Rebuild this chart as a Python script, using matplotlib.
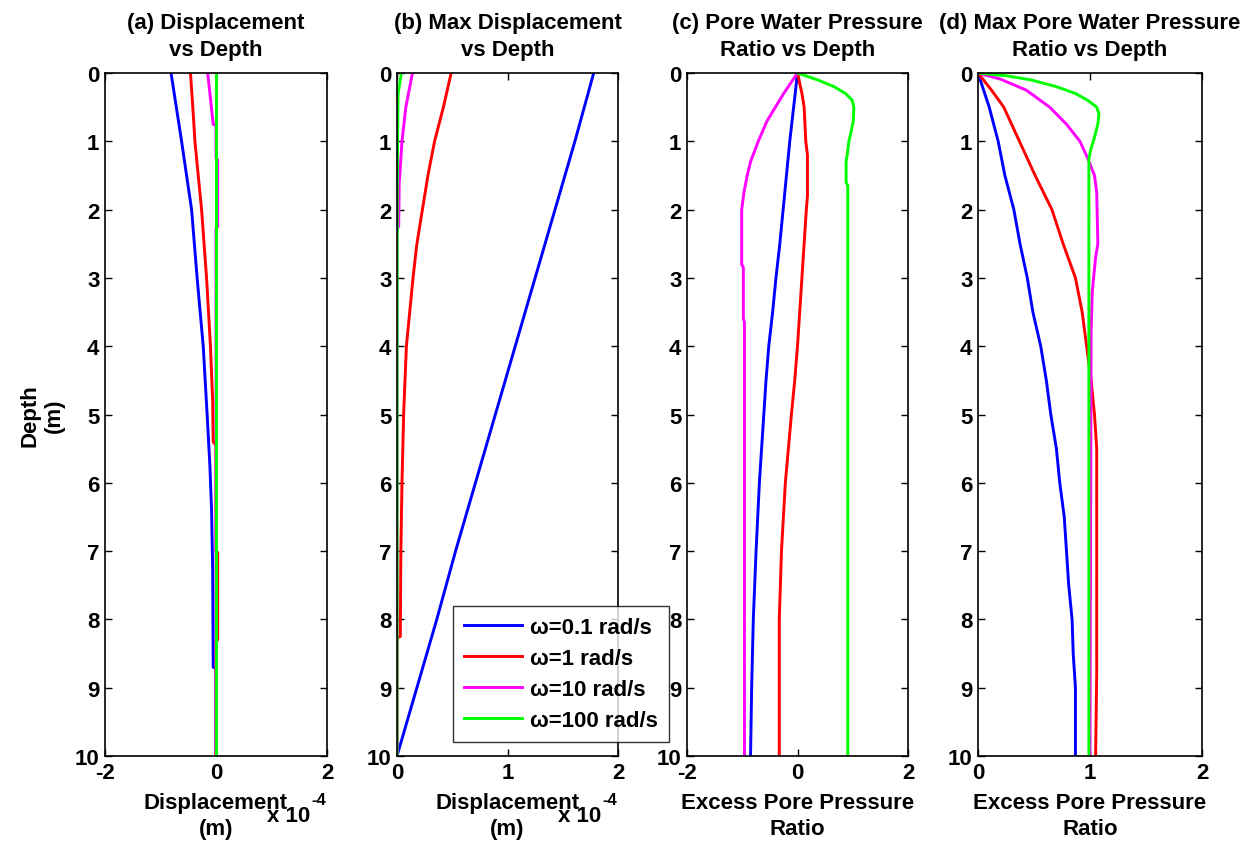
import matplotlib
matplotlib.use('Agg')
from matplotlib import pyplot as plt

plt.rcParams['font.family'] = ['Liberation Sans', 'DejaVu Sans']
plt.rcParams['font.weight'] = 'bold'
plt.rcParams['axes.unicode_minus'] = False

# frequencies (legend)
labels = ['ω=0.1 rad/s', 'ω=1 rad/s', 'ω=10 rad/s', 'ω=100 rad/s']
colors = ['#0000ff', '#ff0000', '#ff00ff', '#00ff00']

# (a) displacement, units of 1e-4 m
a_blue_d = [0, 1, 2, 3, 4, 5, 5.75, 6.4, 7.25, 8.7, 8.72, 10]
a_blue_x = [-0.81, -0.62, -0.44, -0.34, -0.23, -0.16, -0.11, -0.08, -0.06, -0.05, 0, 0]
a_red_d = [0, 0.6, 1, 2, 3, 4, 4.8, 5.4, 5.45, 7.0, 7.02, 8.3, 8.32, 10]
a_red_x = [-0.46, -0.41, -0.38, -0.26, -0.17, -0.10, -0.06, -0.05, 0, 0, 0.03, 0.03, 0, 0]
a_mag_d = [0, 0.75, 0.77, 1.25, 1.27, 2.25, 2.27, 10]
a_mag_x = [-0.15, -0.05, 0, 0, 0.03, 0.03, 0, 0]
a_green_d = [0, 10]
a_green_x = [0, 0]

# (b) max displacement, units of 1e-4 m
b_blue_d = [0, 1, 2, 3, 4, 5, 6, 7, 8, 9, 10]
b_blue_x = [1.78, 1.61, 1.43, 1.25, 1.07, 0.89, 0.71, 0.53, 0.36, 0.18, 0.0]
b_red_d = [0, 0.5, 1, 1.5, 2, 2.5, 3, 3.5, 4, 5, 6, 7, 8.25, 8.27, 10]
b_red_x = [0.49, 0.42, 0.34, 0.28, 0.23, 0.18, 0.145, 0.115, 0.085, 0.06, 0.045, 0.035, 0.03, 0.0, 0.0]
b_mag_d = [0, 0.5, 1, 1.5, 1.6, 2.25, 2.27, 10]
b_mag_x = [0.14, 0.08, 0.045, 0.025, 0.02, 0.015, 0, 0]
b_green_d = [0, 0.3, 1, 2, 10]
b_green_x = [0.04, 0.01, 0.005, 0.002, 0]

# (c) pore water pressure ratio
c_blue_d = [0, 0.5, 1, 1.5, 2, 2.5, 3, 3.5, 4, 4.5, 5, 6, 7, 8, 9, 10]
c_blue_x = [0, -0.07, -0.14, -0.20, -0.26, -0.32, -0.39, -0.45, -0.52, -0.57, -0.61, -0.69, -0.75, -0.80, -0.83, -0.85]
c_red_d = [0, 0.3, 0.5, 1, 1.2, 1.8, 2, 2.5, 3, 3.5, 4, 4.5, 5, 6, 7, 8, 10]
c_red_x = [0, 0.08, 0.12, 0.15, 0.18, 0.18, 0.16, 0.12, 0.08, 0.04, 0.0, -0.05, -0.11, -0.22, -0.29, -0.33, -0.33]
c_mag_d = [0, 0.3, 0.5, 0.7, 1, 1.3, 1.5, 1.75, 2, 2.8, 2.85, 3.6, 3.65, 10]
c_mag_x = [0, -0.25, -0.40, -0.55, -0.71, -0.85, -0.91, -0.97, -1.01, -1.01, -0.98, -0.98, -0.96, -0.96]
c_green_d = [0, 0.1, 0.2, 0.3, 0.4, 0.5, 0.7, 0.9, 1.0, 1.2, 1.3, 1.6, 1.65, 10]
c_green_x = [0, 0.36, 0.66, 0.87, 0.99, 1.02, 1.01, 0.96, 0.93, 0.90, 0.88, 0.88, 0.91, 0.91]

# (d) max pore water pressure ratio
d_blue_d = [0, 0.5, 1, 1.5, 2, 2.5, 3, 3.5, 4, 4.5, 5, 5.5, 6, 6.5, 7, 7.5, 8, 8.5, 9, 10]
d_blue_x = [0, 0.10, 0.18, 0.24, 0.32, 0.375, 0.44, 0.49, 0.56, 0.61, 0.65, 0.70, 0.73, 0.77, 0.79, 0.81, 0.84, 0.85, 0.87, 0.87]
d_red_d = [0, 0.25, 0.5, 1, 1.5, 2, 2.5, 3, 3.5, 4, 4.5, 5, 5.5, 8.8, 10]
d_red_x = [0, 0.12, 0.23, 0.37, 0.51, 0.66, 0.76, 0.87, 0.93, 0.97, 1.01, 1.04, 1.06, 1.06, 1.05]
d_mag_d = [0, 0.09, 0.25, 0.5, 0.75, 1, 1.25, 1.5, 1.75, 2.5, 2.7, 3.2, 3.8, 10]
d_mag_x = [0, 0.20, 0.43, 0.64, 0.79, 0.91, 0.98, 1.04, 1.06, 1.07, 1.05, 1.02, 1.01, 1.0]
d_green_d = [0, 0.04, 0.1, 0.2, 0.3, 0.4, 0.5, 0.6, 0.75, 1, 1.1, 1.25, 10]
d_green_x = [0, 0.25, 0.47, 0.70, 0.87, 0.98, 1.06, 1.08, 1.07, 1.03, 1.01, 0.99, 0.99]

panels = [
    ('(a) Displacement\nvs Depth', 'Displacement\n(m)', (-2, 2), [-2, 0, 2],
     [(a_blue_x, a_blue_d), (a_red_x, a_red_d), (a_mag_x, a_mag_d), (a_green_x, a_green_d)]),
    ('(b) Max Displacement\nvs Depth', 'Displacement\n(m)', (0, 2), [0, 1, 2],
     [(b_blue_x, b_blue_d), (b_red_x, b_red_d), (b_mag_x, b_mag_d), (b_green_x, b_green_d)]),
    ('(c) Pore Water Pressure\nRatio vs Depth', 'Excess Pore Pressure\nRatio', (-2, 2), [-2, 0, 2],
     [(c_blue_x, c_blue_d), (c_red_x, c_red_d), (c_mag_x, c_mag_d), (c_green_x, c_green_d)]),
    ('(d) Max Pore Water Pressure\nRatio vs Depth', 'Excess Pore Pressure\nRatio', (0, 2), [0, 1, 2],
     [(d_blue_x, d_blue_d), (d_red_x, d_red_d), (d_mag_x, d_mag_d), (d_green_x, d_green_d)]),
]

lefts = [105, 397, 687, 978]
widths = [222, 221, 221, 224]

fig = plt.figure(figsize=(12.58, 8.45), dpi=100)
W, H = 1258.0, 845.0

handles = []
for i, (title, xlab, xlim, xt, series) in enumerate(panels):
    ax = fig.add_axes([lefts[i] / W, (H - 757) / H, widths[i] / W, 683 / H])
    for (x, d), c, lab in zip(series, colors, labels):
        ln, = ax.plot(x, d, color=c, lw=2.1, label=lab)
        if i == 1:
            handles.append(ln)
    ax.set_xlim(*xlim)
    ax.set_ylim(10, 0)
    ax.set_xticks(xt)
    ax.set_yticks(range(0, 11))
    ax.tick_params(direction='in', top=True, right=True, length=5, width=1,
                   labelsize=16, pad=4)
    for s in ax.spines.values():
        s.set_linewidth(1.2)
    ax.set_title(title, fontsize=16, fontweight='bold', pad=13, linespacing=1.35)
    ax.set_xlabel(xlab, fontsize=16, fontweight='bold', labelpad=7, linespacing=1.3)
    if i < 2:
        # scale factor, matlab style
        ax.text(0.925, -0.087, 'x 10', transform=ax.transAxes,
                ha='right', va='center', fontsize=16, fontweight='bold')
        ax.text(0.93, -0.064, '-4', transform=ax.transAxes,
                ha='left', va='center', fontsize=12, fontweight='bold')
    if i == 0:
        ax.set_ylabel('Depth\n(m)', fontsize=16, fontweight='bold')
        ax.yaxis.set_label_coords(-0.18, 0.5)

leg = fig.legend(handles=handles, loc='lower left',
                 bbox_to_anchor=(453 / W, (H - 743) / H),
                 fontsize=16, frameon=True, fancybox=False,
                 handlelength=2.6, handletextpad=0.35, labelspacing=0.45,
                 borderpad=0.5, borderaxespad=0)
leg.get_frame().set_edgecolor('black')
leg.get_frame().set_linewidth(1.0)

plt.savefig('out.png', dpi=100)
